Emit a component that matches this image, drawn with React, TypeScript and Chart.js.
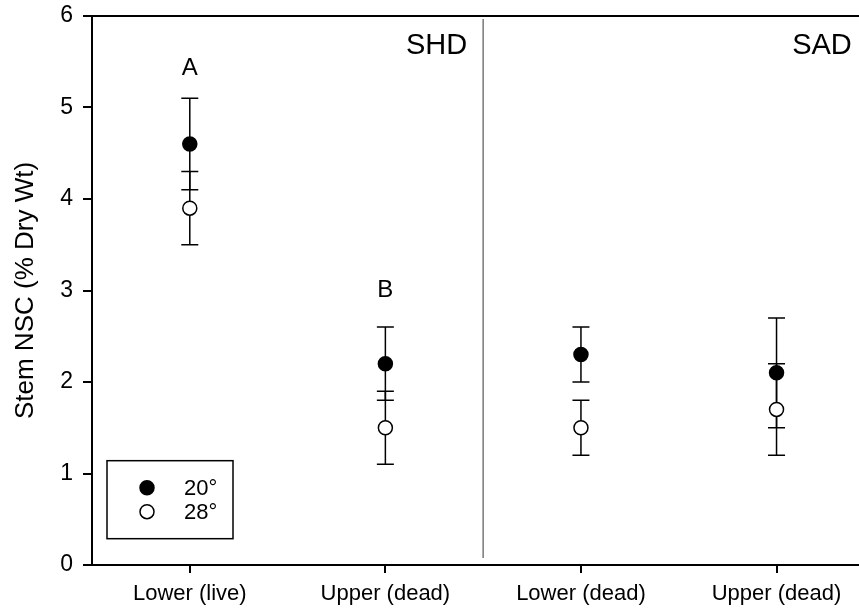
import React, { useEffect, useRef } from "react";
import { Chart, registerables } from "chart.js";

Chart.register(...registerables);

const categories = ["Lower (live)", "Upper (dead)", "Lower (dead)", "Upper (dead)"];
const xPositions = [1, 2, 3, 4];

const mean20 = [4.6, 2.2, 2.3, 2.1];
const low20 = [4.1, 1.8, 2.0, 1.5];
const high20 = [5.1, 2.6, 2.6, 2.7];

const mean28 = [3.9, 1.5, 1.5, 1.7];
const low28 = [3.5, 1.1, 1.2, 1.2];
const high28 = [4.3, 1.9, 1.8, 2.2];

const yTicks = [0, 1, 2, 3, 4, 5, 6];
const seriesLabels = ["20°", "28°"];
const letterLabels = [
  { text: "A", x: 1, y: 5.43 },
  { text: "B", x: 2, y: 3.0 },
];
const panelLabels = ["SHD", "SAD"];
const dividerAt = 2.5;

const FONT = '"Liberation Sans", Arial, sans-serif';

export default function App() {
  const ref = useRef<HTMLCanvasElement | null>(null);

  useEffect(() => {
    if (!ref.current) return;
    const overlay = {
      id: "overlay",
      beforeDatasetsDraw(chart: any) {
        const ctx = chart.ctx;
        const xs = chart.scales.x;
        const ys = chart.scales.y;
        const area = chart.chartArea;
        ctx.save();
        // divider
        ctx.strokeStyle = "#808080";
        ctx.lineWidth = 1.6;
        const dx = xs.getPixelForValue(dividerAt);
        ctx.beginPath();
        ctx.moveTo(dx, area.top + 3);
        ctx.lineTo(dx, area.bottom - 7);
        ctx.stroke();
        // top border
        ctx.strokeStyle = "#000";
        ctx.lineWidth = 2;
        ctx.beginPath();
        ctx.moveTo(area.left - 1, area.top);
        ctx.lineTo(area.right, area.top);
        ctx.stroke();
        // error bars
        const cap = 8.5;
        ctx.lineWidth = 1.5;
        const drawBar = (x: number, lo: number, hi: number) => {
          const px = xs.getPixelForValue(x);
          const pl = ys.getPixelForValue(lo);
          const ph = ys.getPixelForValue(hi);
          ctx.beginPath();
          ctx.moveTo(px, pl);
          ctx.lineTo(px, ph);
          ctx.moveTo(px - cap, pl);
          ctx.lineTo(px + cap, pl);
          ctx.moveTo(px - cap, ph);
          ctx.lineTo(px + cap, ph);
          ctx.stroke();
        };
        xPositions.forEach((x, i) => {
          drawBar(x, low20[i], high20[i]);
          drawBar(x, low28[i], high28[i]);
        });
        ctx.restore();
      },
      afterDatasetsDraw(chart: any) {
        const ctx = chart.ctx;
        const xs = chart.scales.x;
        const ys = chart.scales.y;
        const area = chart.chartArea;
        ctx.save();
        ctx.fillStyle = "#000";
        ctx.textBaseline = "middle";
        // letters
        ctx.font = `24px ${FONT}`;
        ctx.textAlign = "center";
        letterLabels.forEach((l) => {
          ctx.fillText(l.text, xs.getPixelForValue(l.x), ys.getPixelForValue(l.y));
        });
        // panel labels
        ctx.font = `29px ${FONT}`;
        ctx.textAlign = "right";
        const dx = xs.getPixelForValue(dividerAt);
        ctx.fillText(panelLabels[0], dx - 16, area.top + 30);
        ctx.fillText(panelLabels[1], xs.getPixelForValue(4.4) - 3, area.top + 30);
        // legend box
        const bx = area.left + 15;
        const by = ys.getPixelForValue(1.14);
        const bw = 126;
        const bh = 78;
        ctx.fillStyle = "#fff";
        ctx.fillRect(bx, by, bw, bh);
        ctx.strokeStyle = "#000";
        ctx.lineWidth = 1.5;
        ctx.strokeRect(bx, by, bw, bh);
        const rows = [by + 27, by + 51];
        rows.forEach((ry, i) => {
          ctx.beginPath();
          ctx.arc(bx + 40, ry, 7, 0, Math.PI * 2);
          ctx.fillStyle = i === 0 ? "#000" : "#fff";
          ctx.fill();
          ctx.lineWidth = 1.5;
          ctx.strokeStyle = "#000";
          ctx.stroke();
          ctx.fillStyle = "#000";
          ctx.font = `22px ${FONT}`;
          ctx.textAlign = "left";
          ctx.fillText(seriesLabels[i], bx + 77, ry + 1);
        });
        ctx.restore();
      },
    };

    const zeroPad = (scale: any) => {
      scale.paddingLeft = 0;
      scale.paddingRight = 0;
      scale.paddingTop = 0;
      scale.paddingBottom = 0;
    };

    const chart = new Chart(ref.current, {
      type: "scatter",
      data: {
        datasets: [
          {
            label: seriesLabels[0],
            data: xPositions.map((x, i) => ({ x, y: mean20[i] })),
            pointRadius: 7,
            pointBackgroundColor: "#000",
            pointBorderColor: "#000",
            pointBorderWidth: 1.5,
          },
          {
            label: seriesLabels[1],
            data: xPositions.map((x, i) => ({ x, y: mean28[i] })),
            pointRadius: 7,
            pointBackgroundColor: "#fff",
            pointBorderColor: "#000",
            pointBorderWidth: 1.5,
          },
        ],
      },
      options: {
        responsive: false,
        animation: false,
        layout: { padding: { top: 16, left: 0, right: 0, bottom: 0 } },
        plugins: { legend: { display: false }, tooltip: { enabled: false } },
        scales: {
          x: {
            type: "linear",
            min: 0.5,
            max: 4.46,
            afterBuildTicks: (scale: any) => {
              scale.ticks = xPositions.map((v) => ({ value: v }));
            },
            afterFit: (scale: any) => {
              scale.height = 45;
              zeroPad(scale);
            },
            ticks: {
              autoSkip: false,
              maxRotation: 0,
              color: "#000",
              font: { family: FONT, size: 22 },
              padding: 8,
              callback: (v: any) => categories[xPositions.indexOf(Number(v))] ?? "",
            },
            grid: {
              drawOnChartArea: false,
              drawTicks: true,
              tickLength: 8,
              color: "#000",
              lineWidth: 2,
            },
            border: { display: true, color: "#000", width: 2 },
          },
          y: {
            min: 0,
            max: 6,
            afterBuildTicks: (scale: any) => {
              scale.ticks = yTicks.map((v) => ({ value: v }));
            },
            afterFit: (scale: any) => {
              scale.width = 92;
              zeroPad(scale);
            },
            title: {
              display: true,
              text: "Stem NSC (% Dry Wt)",
              color: "#000",
              font: { family: FONT, size: 26 },
              padding: { top: 10, bottom: 0 },
            },
            ticks: {
              color: "#000",
              font: { family: FONT, size: 23 },
              padding: 10,
            },
            grid: {
              drawOnChartArea: false,
              drawTicks: true,
              tickLength: 9,
              color: "#000",
              lineWidth: 2,
            },
            border: { display: true, color: "#000", width: 2 },
          },
        },
      },
      plugins: [overlay],
    } as any);
    return () => chart.destroy();
  }, []);

  return (
    <div
      style={{
        position: "absolute",
        left: 0,
        top: 0,
        width: 859,
        height: 610,
        overflow: "hidden",
        background: "#fff",
      }}
    >
      <canvas ref={ref} width={875} height={610} style={{ display: "block" }} />
    </div>
  );
}
